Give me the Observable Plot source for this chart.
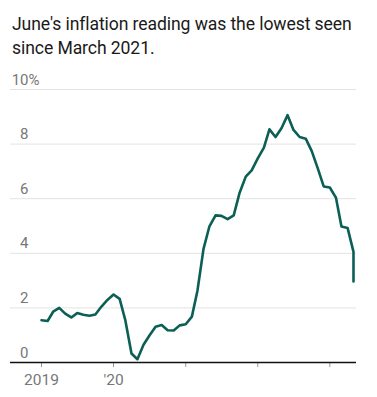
<!DOCTYPE html>
<html>
<head>
<meta charset="utf-8">
<script src="https://cdn.jsdelivr.net/npm/d3@7"></script>
<script src="https://cdn.jsdelivr.net/npm/@observablehq/plot@0.6"></script>
<style>
  body { margin: 0; background: #fff; font-family: Roboto, "Noto Sans", sans-serif; }
  #title { padding: 12px 0 0 12px; font-size: 17.6px; line-height: 24px; color: #1a1a1a; height: 48px; letter-spacing: -0.1px; }
  #chart svg { display: block; }
</style>
</head>
<body>
<div id="title">June's inflation reading was the lowest seen<br>since March 2021.</div>
<div id="chart"></div>
<script>
// Annual CPI inflation, %, monthly from Jan 2019 to Jun 2023
const startMonth = "2019-01";
const inflation = [
  1.55, 1.52, 1.86, 2.00, 1.79, 1.65, 1.81, 1.75, 1.71, 1.76, 2.05, 2.29,
  2.49, 2.33, 1.54, 0.33, 0.12, 0.65, 0.99, 1.31, 1.37, 1.18, 1.17, 1.36,
  1.40, 1.68, 2.62, 4.16, 4.99, 5.39, 5.37, 5.25, 5.39, 6.22, 6.81, 7.04,
  7.48, 7.87, 8.54, 8.26, 8.58, 9.06, 8.52, 8.26, 8.20, 7.75, 7.11, 6.45,
  6.41, 6.04, 4.98, 4.93, 4.05, 2.97
];
const yTicks = [0, 2, 4, 6, 8, 10];
const xTickYears = ["2019", "2020", "2021", "2022", "2023"];
const xTickLabels = ["2019", "'20", "", "", ""];

const start = new Date(startMonth + "-01T00:00:00Z");
const data = inflation.map((v, i) => ({date: d3.utcMonth.offset(start, i), value: v}));
const xTicks = xTickYears.map(y => new Date(y + "-01-01T00:00:00Z"));
const xLabel = new Map(xTicks.map((d, i) => [+d, xTickLabels[i]]));

const W = 377, H = 337;
const chart = Plot.plot({
  width: W,
  height: H,
  marginLeft: 10,
  marginRight: 21,
  marginTop: 29,
  marginBottom: 35,
  style: {fontFamily: "Roboto, 'Noto Sans', sans-serif", background: "#fff"},
  x: {type: "utc", domain: [new Date("2019-01-01T00:00:00Z"), new Date("2023-05-01T00:00:00Z")], range: [41, 353], clamp: true},
  y: {domain: [0, 10], range: [H - 35, 29], axis: null},
  marks: [
    Plot.ruleY(yTicks.filter(d => d > 0), {stroke: "#e3e3e3", strokeWidth: 1}),
    Plot.text(yTicks, {y: d => d, text: d => String(d), frameAnchor: "left", textAnchor: "end", dx: 18, dy: -5, lineAnchor: "bottom", fontSize: 15, fill: "#777"}),
    Plot.text([10], {y: d => d, text: d => "%", frameAnchor: "left", textAnchor: "start", dx: 18, dy: -5, lineAnchor: "bottom", fontSize: 15, fill: "#777"}),
    Plot.axisX({ticks: xTicks, tickFormat: d => xLabel.get(+d), tickSize: 5, tickPadding: 6, stroke: "#999", fill: "#777", fontSize: 15.5, label: null}),
    Plot.ruleY([0], {stroke: "#111", strokeWidth: 1.3}),
    Plot.lineY(data, {x: "date", y: "value", stroke: "#0c5f55", strokeWidth: 2.6, strokeLinejoin: "round"})
  ]
});
document.getElementById("chart").appendChild(chart);
</script>
</body>
</html>
